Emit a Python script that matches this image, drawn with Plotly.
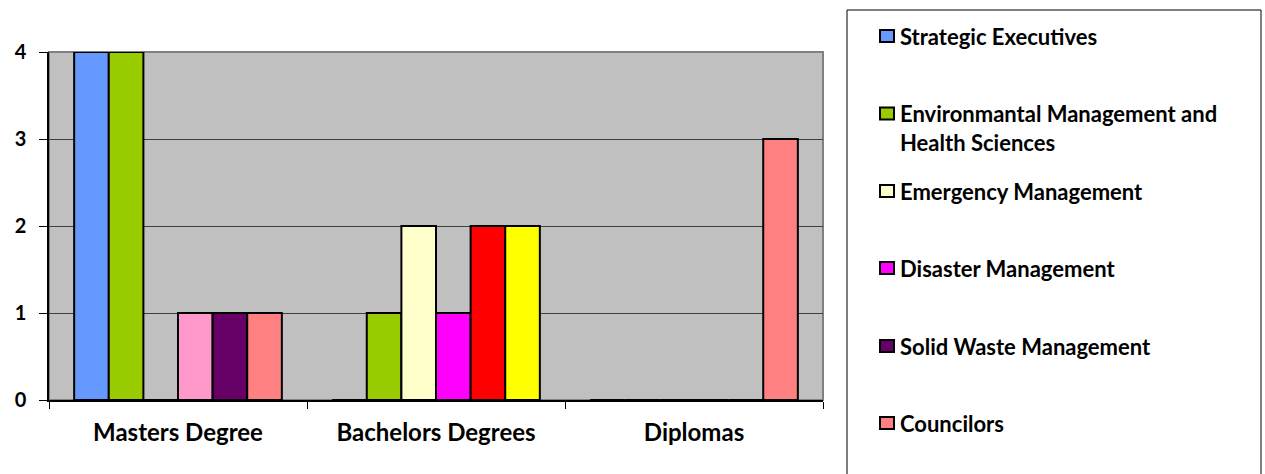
import plotly.graph_objects as go

# ---- data ----
categories = ["Masters Degree", "Bachelors Degrees", "Diplomas"]

series_names = [
    "Strategic Executives",
    "Environmantal Management and Health Sciences",
    "Emergency Management",
    "Disaster Management",
    "Solid Waste Management",
    "Councilors",
]
strategic_executives = [4, 0, 0]
environmental_health = [4, 1, 0]
emergency_management = [0, 2, 0]
disaster_management = [1, 1, 0]
solid_waste_management = [1, 2, 0]
councilors = [1, 2, 3]

series_values = [
    strategic_executives,
    environmental_health,
    emergency_management,
    disaster_management,
    solid_waste_management,
    councilors,
]

# per-point fill colours (some series change colour by category)
point_colors = [
    ["#6699FF", "#6699FF", "#6699FF"],
    ["#99CC00", "#99CC00", "#99CC00"],
    ["#FFFFCC", "#FFFFCC", "#FFFFCC"],
    ["#FF99CC", "#FF00FF", "#FF00FF"],
    ["#660066", "#FF0000", "#FF0000"],
    ["#FF8080", "#FFFF00", "#FF8080"],
]
# swatch colours shown in the key
legend_colors = ["#6699FF", "#99CC00", "#FFFFCC", "#FF00FF", "#660066", "#FF8080"]
legend_lines = [
    ["Strategic Executives"],
    ["Environmantal Management and", "Health Sciences"],
    ["Emergency Management"],
    ["Disaster Management"],
    ["Solid Waste Management"],
    ["Councilors"],
]

y_ticks = [0, 1, 2, 3, 4]

# ---- layout geometry (pixels) ----
W, H = 1265, 474
ML, MR, MT, MB = 49, 442, 52, 74
PW = W - ML - MR
PH = H - MT - MB


def px_x(x):
    return (x - ML) / PW


def px_y(y):
    return (H - MB - y) / PH


FONT = "Lato"
X_FSIZE = 24
Y_FSIZE = 20
KEY_FSIZE = 22

fig = go.Figure()
for name, vals, cols in zip(series_names, series_values, point_colors):
    fig.add_trace(
        go.Bar(
            x=categories,
            y=vals,
            name=name,
            marker=dict(color=cols, line=dict(color="#000000", width=2)),
            showlegend=False,
        )
    )

shapes = [
    # plot-area frame (top and right edges grey)
    dict(type="rect", xref="paper", yref="paper", x0=0, x1=1, y0=0, y1=1,
         line=dict(color="#808080", width=2), fillcolor="rgba(0,0,0,0)", layer="below"),
    # key box
    dict(type="rect", xref="paper", yref="paper",
         x0=px_x(847), x1=px_x(1261), y0=px_y(484), y1=px_y(10),
         line=dict(color="#000000", width=1), fillcolor="#FFFFFF"),
]

annotations = []
entry_y = [36, 113.5, 191, 268, 346, 423]
for ey, col, lines in zip(entry_y, legend_colors, legend_lines):
    shapes.append(
        dict(type="rect", xref="paper", yref="paper",
             x0=px_x(880), x1=px_x(894), y0=px_y(ey + 6), y1=px_y(ey - 6),
             line=dict(color="#000000", width=2), fillcolor=col)
    )
    for i, txt in enumerate(lines):
        annotations.append(
            dict(text=txt, xref="paper", yref="paper", x=px_x(898), y=px_y(ey + 28.5 * i),
                 xanchor="left", yanchor="middle", showarrow=False,
                 font=dict(family=FONT, size=KEY_FSIZE, color="#000000", weight="bold"))
        )

fig.update_layout(
    width=W,
    height=H,
    margin=dict(l=ML, r=MR, t=MT, b=MB, autoexpand=False),
    paper_bgcolor="#FFFFFF",
    plot_bgcolor="#C0C0C0",
    barmode="group",
    bargap=0.195,
    bargroupgap=0,
    showlegend=False,
    shapes=shapes,
    annotations=annotations,
    font=dict(family=FONT, size=Y_FSIZE, color="#000000", weight="bold"),
    xaxis=dict(
        type="category",
        showline=True, linecolor="#000000", linewidth=1.5,
        ticks="outside", tickson="boundaries", ticklen=7, tickcolor="#000000", tickwidth=1,
        showgrid=False,
        tickfont=dict(family=FONT, size=X_FSIZE, color="#000000", weight="bold"),
        ticklabelstandoff=10,
    ),
    yaxis=dict(
        range=[0, 4],
        tickvals=y_ticks,
        showline=True, linecolor="#000000", linewidth=1.5,
        ticks="outside", ticklen=8, tickcolor="#000000", tickwidth=1,
        showgrid=True, gridcolor="#404040", gridwidth=1,
        zeroline=False,
        tickfont=dict(family=FONT, size=Y_FSIZE, color="#000000", weight="bold"),
        ticklabelstandoff=9,
    ),
)

fig.write_html("out.html")
